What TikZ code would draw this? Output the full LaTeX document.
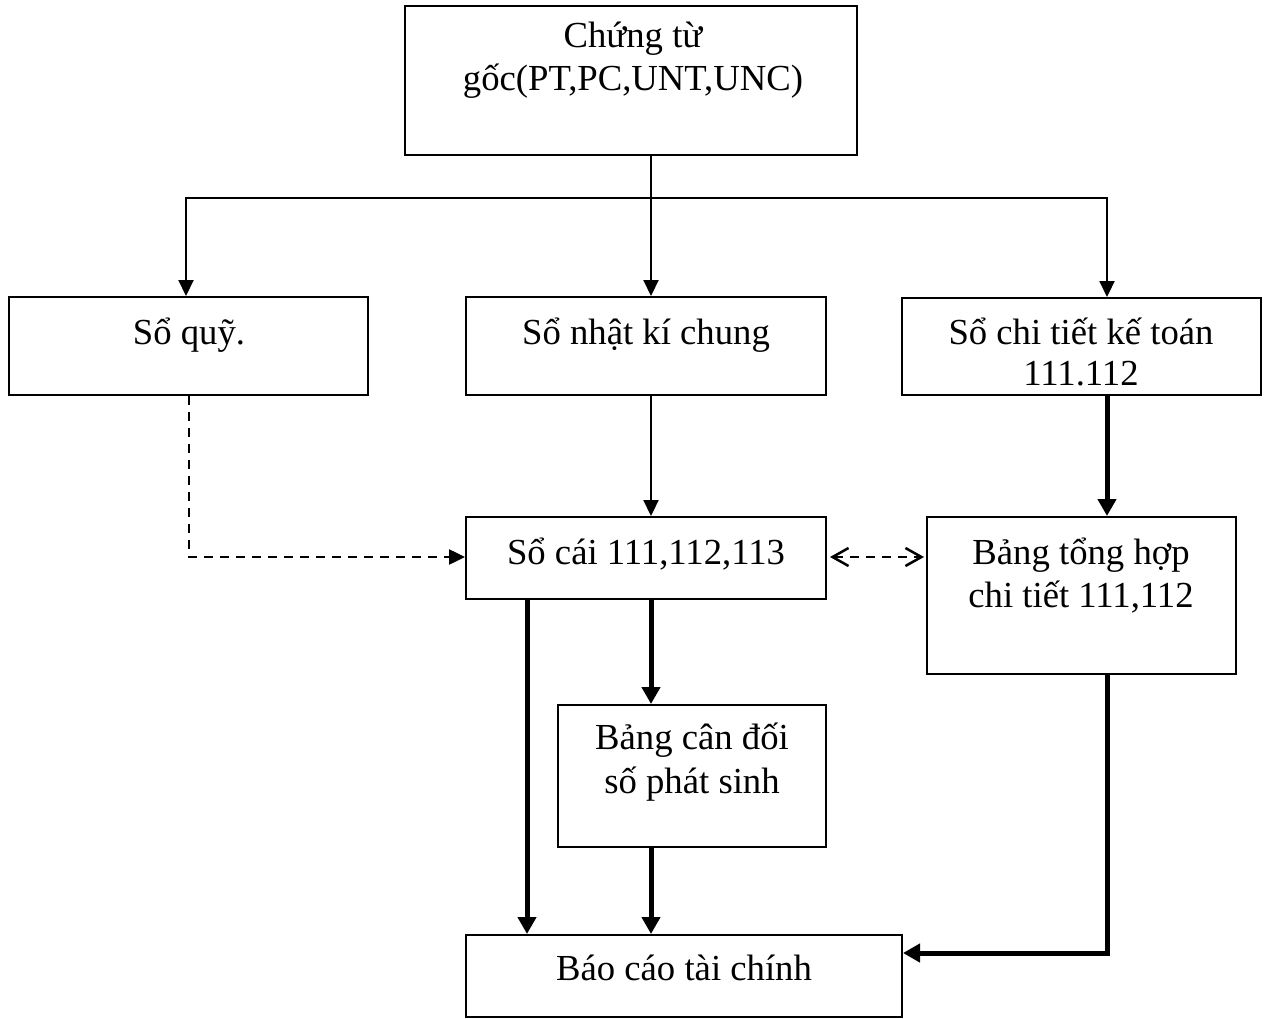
\documentclass[tikz,border=0pt]{standalone}
\usepackage{fontspec}
\setmainfont{Liberation Serif}
\usetikzlibrary{arrows.meta}
\newcommand{\diagfont}{\fontsize{36.7}{42}\selectfont}
\tikzset{
  box/.style={draw, line width=2pt, rectangle, inner sep=0pt},
  txt/.style={anchor=base, inner sep=0pt, font=\diagfont},
  conn/.style={line width=2.2pt},
  thickconn/.style={line width=5pt},
  thintip/.style={-{Triangle[length=16pt,width=15pt]}},
  thicktip/.style={-{Triangle[length=17pt,width=18pt]}},
  dashconn/.style={line width=2.5pt, dash pattern=on 9pt off 7pt},
  opentips/.style={{Straight Barb[length=16pt,width=18pt,line width=2.5pt]}-{Straight Barb[length=16pt,width=18pt,line width=2.5pt]}}
}
\begin{document}
\begin{tikzpicture}[x=1pt,y=-1pt]
\useasboundingbox (0,0) rectangle (1264,1019);
% boxes
\node[box, minimum width=452pt, minimum height=149pt] (top) at (631,80.5) {};
\node[box, minimum width=359pt, minimum height=98pt] (quy) at (188.5,346) {};
\node[box, minimum width=360pt, minimum height=98pt] (nkc) at (646,346) {};
\node[box, minimum width=359pt, minimum height=97pt] (sct) at (1081.5,346.5) {};
\node[box, minimum width=360pt, minimum height=82pt] (soc) at (646,558) {};
\node[box, minimum width=309pt, minimum height=157pt] (bth) at (1081.5,595.5) {};
\node[box, minimum width=268pt, minimum height=142pt] (bcd) at (692,776) {};
\node[box, minimum width=436pt, minimum height=82pt] (bctc) at (684,976) {};
% texts
\node[txt] (t1) at (633,48) {Chứng từ};
\node[txt] (t2) at (633,91) {gốc(PT,PC,UNT,UNC)};
\node[txt] (t3) at (189,344) {Sổ quỹ.};
\node[txt] (t4) at (646,344) {Sổ nhật kí chung};
\node[txt] (t5) at (1081,344) {Sổ chi tiết kế toán};
\node[txt] (t6) at (1081,385) {111.112};
\node[txt] (t7) at (646,564) {Sổ cái 111,112,113};
\node[txt] (t8) at (1081,564) {Bảng tổng hợp};
\node[txt] (t9) at (1081,607) {chi tiết 111,112};
\node[txt] (t10) at (692,749) {Bảng cân đối};
\node[txt] (t11) at (692,793) {số phát sinh};
\node[txt] (t12) at (684,980) {Báo cáo tài chính};
% helper coordinates
\coordinate (j) at (651,198);
\coordinate (jl) at (186,198);
\coordinate (jr) at (1107,198);
\coordinate (dq) at (189,557);
\coordinate (cl) at (527,0);
\coordinate (k) at (1107,953);
% top distribution
\draw[conn] (top.south -| j) -- (j);
\draw[conn, thintip] (j) -- (jl) -- (jl |- quy.north);
\draw[conn, thintip] (j) -- (jr) -- (jr |- sct.north);
\draw[conn, thintip] (j) -- (j |- nkc.north);
% dashed from So quy
\draw[dashconn, thintip] (quy.south -| dq) -- (dq) -- (dq -| soc.west);
% nkc to so cai
\draw[conn, thintip] (nkc.south -| j) -- (soc.north -| j);
% so chi tiet to bang tong hop
\draw[thickconn, thicktip] (sct.south -| jr) -- (bth.north -| jr);
% double dashed
\draw[line width=2.5pt, dash pattern=on 9pt off 7pt, opentips] ([xshift=3pt]soc.east |- dq) -- ([xshift=-2pt]dq -| bth.west);
% so cai to bctc and bcd
\draw[thickconn, thicktip] (soc.south -| cl) -- (bctc.north -| cl);
\draw[thickconn, thicktip] (soc.south -| j) -- (bcd.north -| j);
\draw[thickconn, thicktip] (bcd.south -| j) -- (bctc.north -| j);
% bth to bctc
\draw[thickconn, thicktip] (bth.south -| k) -- (k) -- (k -| bctc.east);
\end{tikzpicture}
\end{document}
